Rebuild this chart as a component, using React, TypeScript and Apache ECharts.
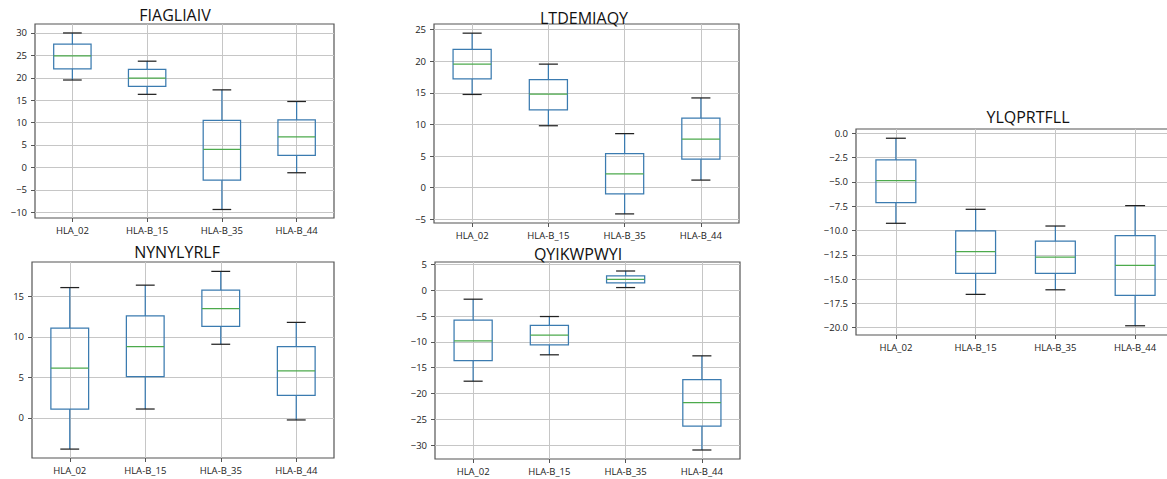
import React, { useEffect, useRef } from "react";
import * as echarts from "echarts";

const categories = ["HLA_02", "HLA-B_15", "HLA-B_35", "HLA-B_44"];

// each box: [lower whisker, Q1, median, Q3, upper whisker]
const fiagliaiv = [
  [19.5, 22.0, 24.9, 27.5, 30.0],
  [16.3, 18.1, 19.9, 21.9, 23.7],
  [-9.4, -2.85, 4.0, 10.5, 17.3],
  [-1.2, 2.7, 6.8, 10.6, 14.7],
];
const ltdemiaqy = [
  [14.75, 17.2, 19.55, 21.9, 24.45],
  [9.8, 12.3, 14.8, 17.1, 19.55],
  [-4.15, -0.97, 2.2, 5.4, 8.55],
  [1.2, 4.5, 7.7, 11.0, 14.2],
];
const nynylyrlf = [
  [-3.85, 1.1, 6.15, 11.1, 16.1],
  [1.1, 5.1, 8.8, 12.6, 16.4],
  [9.1, 11.3, 13.5, 15.8, 18.1],
  [-0.25, 2.8, 5.8, 8.8, 11.8],
];
const qyikwpwyi = [
  [-17.6, -13.6, -9.8, -5.8, -1.75],
  [-12.5, -10.6, -8.7, -6.8, -5.1],
  [0.5, 1.4, 2.1, 2.75, 3.7],
  [-30.9, -26.3, -21.75, -17.3, -12.7],
];
const ylqprtfll = [
  [-9.26, -7.14, -4.87, -2.74, -0.51],
  [-16.57, -14.4, -12.18, -10.05, -7.82],
  [-16.1, -14.4, -12.73, -11.1, -9.54],
  [-19.8, -16.67, -13.6, -10.53, -7.44],
];

const ticks1 = [-10, -5, 0, 5, 10, 15, 20, 25, 30];
const ticks2 = [-5, 0, 5, 10, 15, 20, 25];
const ticks3 = [-5, 0, 5, 10, 15];
const ticks4 = [-30, -25, -20, -15, -10, -5, 0, 5];
const ticks5 = [-20, -17.5, -15, -12.5, -10, -7.5, -5, -2.5, 0];

const positions = [1, 2, 3, 4];

const panels = [
  { title: "FIAGLIAIV", data: fiagliaiv, ticks: ticks1, min: -11.3, max: 32.0, dec: 0,
    grid: { left: 35, top: 24, width: 299, height: 194 }, tx: 175, ty: 14.7 },
  { title: "LTDEMIAQY", data: ltdemiaqy, ticks: ticks2, min: -5.59, max: 25.9, dec: 0,
    grid: { left: 434, top: 24, width: 305, height: 199 }, tx: 584, ty: 18 },
  { title: "NYNYLYRLF", data: nynylyrlf, ticks: ticks3, min: -4.95, max: 19.26, dec: 0,
    grid: { left: 32, top: 262, width: 302, height: 196 }, tx: 177, ty: 252.2 },
  { title: "QYIKWPWYI", data: qyikwpwyi, ticks: ticks4, min: -32.64, max: 5.44, dec: 0,
    grid: { left: 435, top: 262, width: 305, height: 197 }, tx: 578, ty: 254.2 },
  { title: "YLQPRTFLL", data: ylqprtfll, ticks: ticks5, min: -20.75, max: 0.44, dec: 1,
    grid: { left: 856, top: 129, width: 319, height: 206 }, tx: 1028, ty: 117.2 },
];

const BLUE = "#3b7bb0";
const GREEN = "#4caa4c";
const CAP = "#222222";
const GRIDC = "#c6c6c6";
const FRAME = "#555555";
const FONT = "'Open Sans', 'Noto Sans', sans-serif";

function fmt(v: number, dec: number) {
  const s = Math.abs(v).toFixed(dec);
  return v < 0 ? "\u2212" + s : s;
}

function renderBox(params: any, api: any) {
  const x = api.value(0);
  const low = api.value(1);
  const q1 = api.value(2);
  const med = api.value(3);
  const q3 = api.value(4);
  const high = api.value(5);
  const c = api.coord([x, med]);
  const xl = api.coord([x - 0.25, med])[0];
  const xr = api.coord([x + 0.25, med])[0];
  const cl = api.coord([x - 0.125, med])[0];
  const cr = api.coord([x + 0.125, med])[0];
  const yLow = api.coord([x, low])[1];
  const yQ1 = api.coord([x, q1])[1];
  const yQ3 = api.coord([x, q3])[1];
  const yHigh = api.coord([x, high])[1];
  const cx = c[0];
  const lw = 1.25;
  return {
    type: "group",
    children: [
      { type: "line", shape: { x1: cx, y1: yQ3, x2: cx, y2: yHigh }, style: { stroke: BLUE, lineWidth: lw } },
      { type: "line", shape: { x1: cx, y1: yQ1, x2: cx, y2: yLow }, style: { stroke: BLUE, lineWidth: lw } },
      { type: "line", shape: { x1: cl, y1: yHigh, x2: cr, y2: yHigh }, style: { stroke: CAP, lineWidth: lw } },
      { type: "line", shape: { x1: cl, y1: yLow, x2: cr, y2: yLow }, style: { stroke: CAP, lineWidth: lw } },
      { type: "rect", shape: { x: xl, y: yQ3, width: xr - xl, height: yQ1 - yQ3 },
        style: { stroke: BLUE, fill: "rgba(0,0,0,0)", lineWidth: lw } },
      { type: "line", shape: { x1: xl, y1: c[1], x2: xr, y2: c[1] }, style: { stroke: GREEN, lineWidth: lw } },
    ],
  };
}

export default function App() {
  const ref = useRef<HTMLDivElement>(null);
  useEffect(() => {
    if (!ref.current) return;
    const chart = echarts.init(ref.current, null, { renderer: "svg" });
    const option: any = {
      animation: false,
      backgroundColor: "#ffffff",
      grid: panels.map((p) => ({
        ...p.grid,
        show: true,
        borderColor: FRAME,
        borderWidth: 1.2,
        backgroundColor: "#ffffff",
        containLabel: false,
      })),
      xAxis: panels.map((p, i) => ({
        type: "value",
        gridIndex: i,
        position: "bottom",
        min: 0.5,
        max: 4.5,
        axisLine: { show: false, onZero: false },
        axisTick: { show: true, length: 4, lineStyle: { color: FRAME }, customValues: positions },
        axisLabel: {
          customValues: positions,
          margin: 7,
          fontFamily: FONT,
          fontSize: 9.5,
          color: "#222",
          formatter: (v: number) => categories[Math.round(v) - 1],
        },
        splitLine: { show: true, lineStyle: { color: GRIDC, width: 1 } },
      })),
      yAxis: panels.map((p, i) => ({
        type: "value",
        gridIndex: i,
        position: "left",
        min: p.min,
        max: p.max,
        axisLine: { show: false, onZero: false },
        axisTick: { show: true, length: 4, lineStyle: { color: FRAME }, customValues: p.ticks },
        axisLabel: {
          customValues: p.ticks,
          margin: 8,
          fontFamily: FONT,
          fontSize: 9.5,
          color: "#222",
          formatter: (v: number) => fmt(v, p.dec),
        },
        splitLine: { show: true, lineStyle: { color: GRIDC, width: 1 } },
      })),
      graphic: panels.map((p) => ({
        type: "text",
        x: p.tx,
        y: p.ty,
        z: 100,
        style: {
          text: p.title,
          fontFamily: FONT,
          fontSize: 16,
          fill: "#111",
          align: "center",
          verticalAlign: "middle",
        },
      })),
      series: panels.map((p, i) => ({
        type: "custom",
        xAxisIndex: i,
        yAxisIndex: i,
        silent: true,
        clip: false,
        renderItem: renderBox,
        data: p.data.map((d, j) => [positions[j], ...d]),
      })),
    };
    chart.setOption(option);
    return () => chart.dispose();
  }, []);
  return (
    <div style={{ position: "fixed", left: 0, top: 0, width: 1167, height: 479, overflow: "hidden", background: "#fff" }}>
      <div ref={ref} style={{ width: 1180, height: 479 }} />
    </div>
  );
}
